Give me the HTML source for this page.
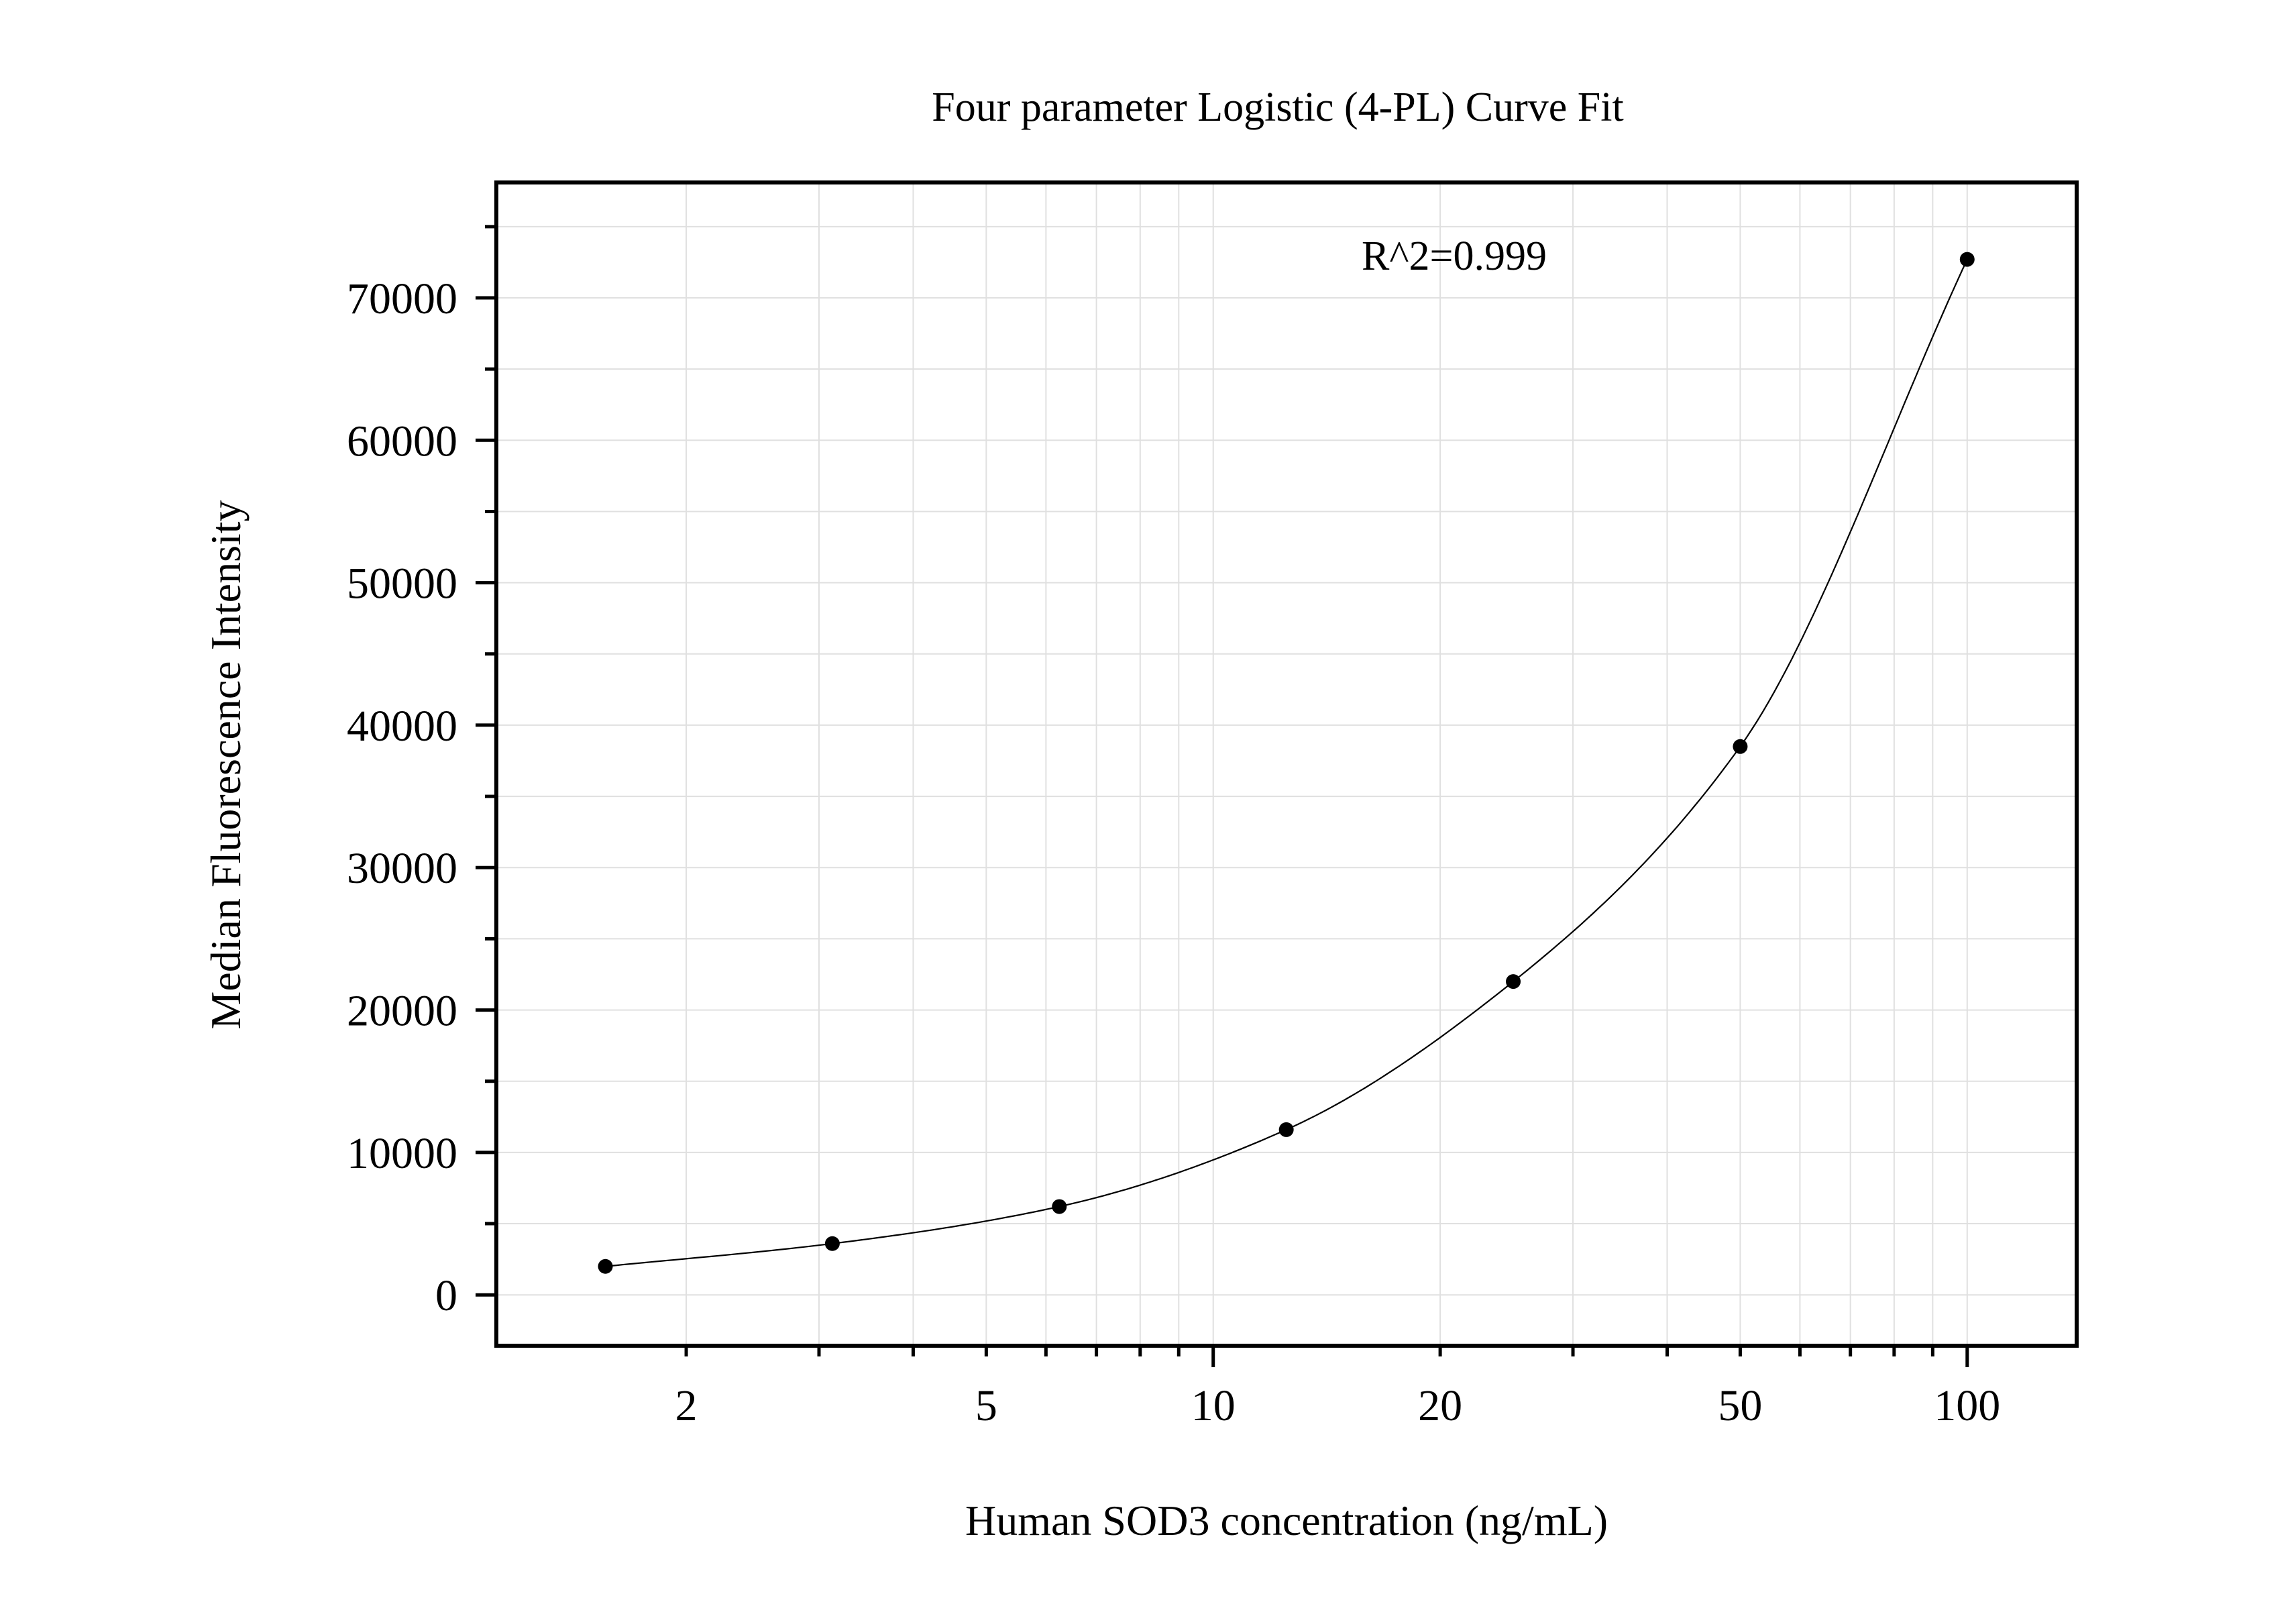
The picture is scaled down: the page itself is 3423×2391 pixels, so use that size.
<!DOCTYPE html>
<html><head><meta charset="utf-8"><style>
html,body{margin:0;padding:0;background:#fff;}
svg{display:block;font-family:"Liberation Serif",serif;}
</style></head><body>
<svg id="chart" width="3423" height="2391" viewBox="0 0 3423 2391">
<text x="1905" y="180" text-anchor="middle" font-size="62">Four parameter Logistic (4-PL) Curve Fit</text>
<text x="1918" y="2288" text-anchor="middle" font-size="64">Human SOD3 concentration (ng/mL)</text>
<text x="0" y="0" text-anchor="middle" font-size="64" transform="translate(358,1140) rotate(-90)">Median Fluorescence Intensity</text>
<g id="grid"></g>
<g id="axes"></g>
<g id="series"></g>
<text x="2168" y="402" text-anchor="middle" font-size="62">R^2=0.999</text>
<rect x="740" y="272" width="2356" height="1734" fill="none" stroke="#000" stroke-width="6"/>
</svg>
<script>
const concentrations = [1.5625, 3.125, 6.25, 12.5, 25, 50, 100];
const intensities = [2000, 3600, 6200, 11600, 22000, 38500, 72700];
const xTickLabels = [2, 5, 10, 20, 50, 100];
const yTickLabels = [0, 10000, 20000, 30000, 40000, 50000, 60000, 70000];

const NS = "http://www.w3.org/2000/svg";
const L = 740, R = 3096, T = 272, B = 2006;
const xMinLog = Math.log10(1.12), xMaxLog = Math.log10(139.7);
const yMin = -3570, yMax = 78100;
function xs(v){ return L + (Math.log10(v) - xMinLog) / (xMaxLog - xMinLog) * (R - L); }
function ys(v){ return B - (v - yMin) / (yMax - yMin) * (B - T); }
function mk(tag, attrs, parent){ const e = document.createElementNS(NS, tag); for (const k in attrs) e.setAttribute(k, attrs[k]); parent.appendChild(e); return e; }

const grid = document.getElementById('grid'), axes = document.getElementById('axes'), series = document.getElementById('series');
// x grid & ticks
const xGridVals = [];
for (let d = 1; d <= 100; d *= 10) for (let m = 1; m <= 9; m++) { const v = m * d; if (v >= 1.12 && v <= 139.7) xGridVals.push(v); }
xGridVals.forEach(v => {
  const x = xs(v);
  const g = mk('line', {x1:x, x2:x, y1:T, y2:B, stroke:'#e0e0e0', 'stroke-width':2}, grid);
  
  
  const long = (v === 10 || v === 100);
  const t = mk('line', {x1:x, x2:x, y1:B, y2:B + (long ? 32 : 16), stroke:'#000', 'stroke-width':5}, axes);
  
  
});
xTickLabels.forEach(v => {
  const t = mk('text', {x:xs(v), y:2117, 'text-anchor':'middle', 'font-size':66}, axes);
  t.textContent = v;
  
  
});
// y grid & ticks
for (let v = 0; v <= 75000; v += 5000) {
  const y = ys(v);
  const g = mk('line', {x1:L, x2:R, y1:y, y2:y, stroke:'#e0e0e0', 'stroke-width':2}, grid);
  
  
  const major = v % 10000 === 0;
  const t = mk('line', {x1:L - (major ? 31 : 17), x2:L, y1:y, y2:y, stroke:'#000', 'stroke-width':5}, axes);
  
  
}
yTickLabels.forEach(v => {
  const t = mk('text', {x:682, y:ys(v) + 23, 'text-anchor':'end', 'font-size':66}, axes);
  t.textContent = v;
  
  
});
// smooth curve (monotone cubic in log-x) through points
const px = concentrations.map(c => Math.log10(c)), py = intensities.slice();
const n = px.length, dl = [], m = [];
for (let i = 0; i < n - 1; i++) dl.push((py[i+1] - py[i]) / (px[i+1] - px[i]));
m.push(dl[0]);
for (let i = 1; i < n - 1; i++) m.push((dl[i-1] * dl[i] <= 0) ? 0 : 2 / (1/dl[i-1] + 1/dl[i]));
m.push(dl[n-2]);
let d = '';
for (let i = 0; i < n - 1; i++) {
  const h = px[i+1] - px[i];
  for (let k = 0; k <= 40; k++) {
    const t = k / 40, t2 = t*t, t3 = t2*t;
    const yv = (2*t3-3*t2+1)*py[i] + (t3-2*t2+t)*h*m[i] + (-2*t3+3*t2)*py[i+1] + (t3-t2)*h*m[i+1];
    const xv = Math.pow(10, px[i] + t*h);
    d += (d ? 'L' : 'M') + xs(xv).toFixed(1) + ',' + ys(yv).toFixed(1);
  }
}
const curve = mk('path', {d:d, fill:'none', stroke:'#000', 'stroke-width':2.2}, series);


concentrations.forEach((c, i) => {
  const p = mk('circle', {cx:xs(c), cy:ys(intensities[i]), r:11, fill:'#000'}, series);
  
  
});
</script>
</body></html>
